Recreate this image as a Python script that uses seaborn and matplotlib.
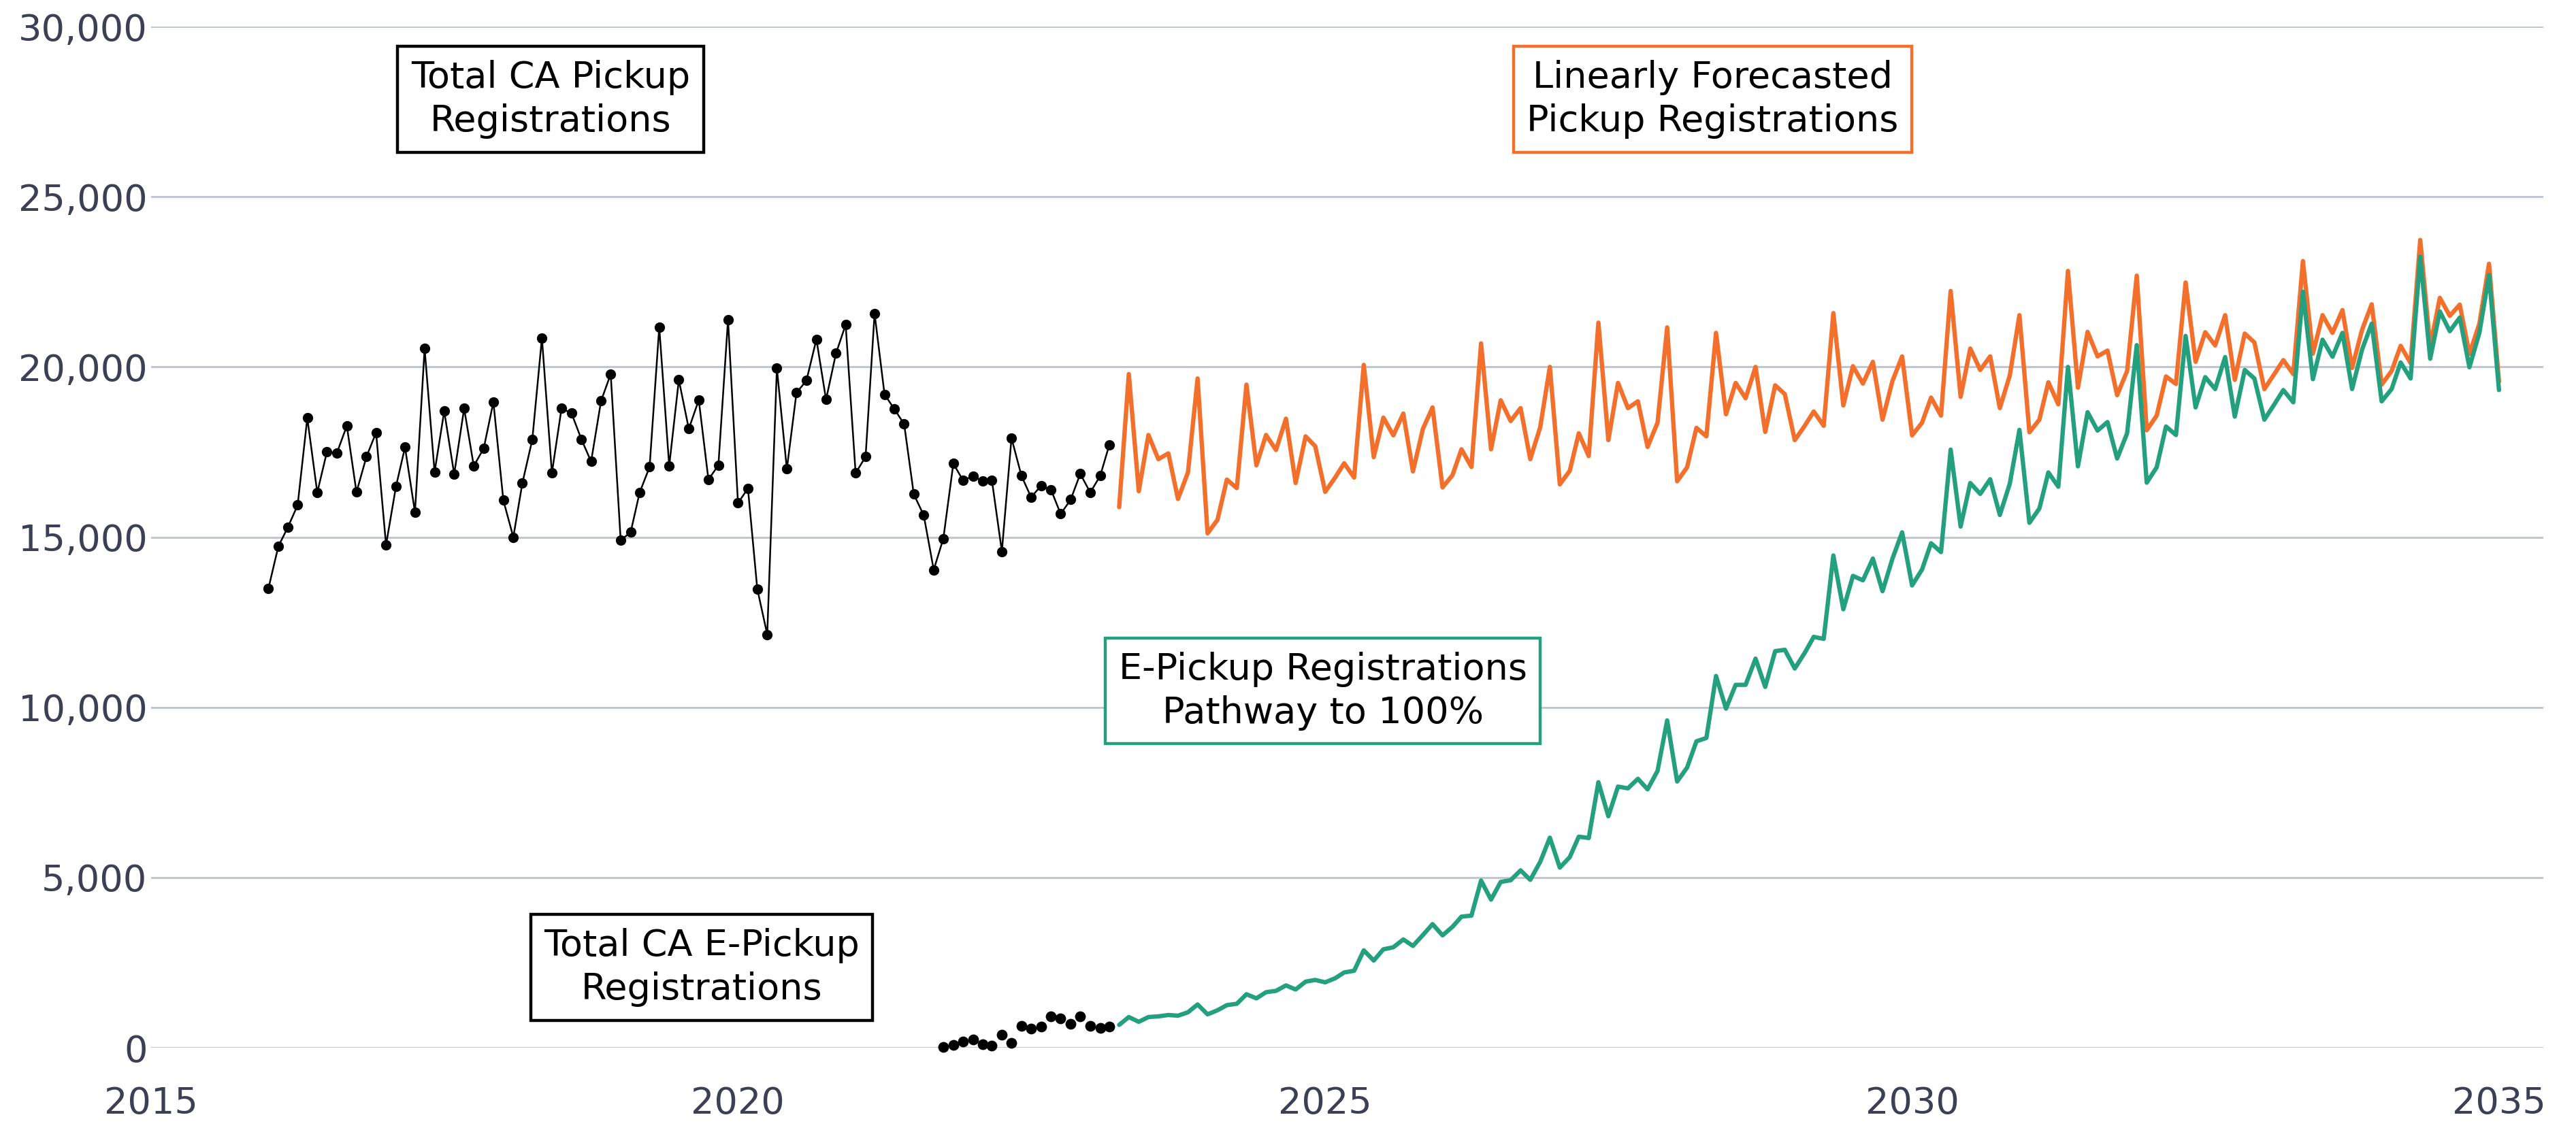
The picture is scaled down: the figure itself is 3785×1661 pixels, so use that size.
import numpy as np
import pandas as pd
import seaborn as sns
from matplotlib import pyplot as plt
import matplotlib.dates as mdates
from matplotlib.ticker import FuncFormatter

# monthly registrations
pickup_start = "2016-01-01"
pickup = [
    13490, 14730, 15280, 15940, 18500, 16310, 17500, 17470, 18270, 16320, 17360, 18070,
    14770, 16490, 17640, 15730, 20540, 16910, 18700, 16850, 18780, 17090, 17610, 18970,
    16080, 15000, 16580, 17860, 20850, 16880, 18780, 18640, 17870, 17220, 19000, 19790,
    14910, 15140, 16310, 17060, 21170, 17090, 19620, 18180, 19030, 16690, 17110, 21390,
    16000, 16430, 13480, 12140, 19960, 17000, 19240, 19600, 20810, 19040, 20400, 21240,
    16880, 17360, 21570, 19190, 18770, 18320, 16260, 15640, 14040, 14960, 17160, 16670,
    16790, 16640, 16670, 14580, 17910, 16800, 16170, 16510, 16390, 15680, 16100, 16860,
    16310, 16800, 17700,
]

epickup_start = "2021-10-01"
epickup = [20, 80, 180, 230, 90, 60, 370, 130, 630, 550, 610, 910, 860, 690, 910, 630, 580, 610]

forecast_start = "2023-04-01"
forecast = [
    15880, 19790, 16350, 18000, 17290, 17460, 16120, 16900, 19660,
    15110, 15510, 16690, 16440, 19480, 17110, 18000, 17560, 18480, 16590, 17960, 17670,
    16330, 16750, 17170, 16750, 20060, 17350, 18510, 17990, 18630, 16930, 18180, 18810,
    16460, 16820, 17580, 17060, 20690, 17580, 19020, 18410, 18790, 17290, 18230, 20000,
    16550, 16950, 18050, 17380, 21300, 17850, 19530, 18790, 18990, 17650, 18360, 21160,
    16640, 17050, 18210, 17960, 21000, 18610, 19530, 19080, 20000, 18090, 19460, 19200,
    17850, 18270, 18690, 18270, 21580, 18870, 20020, 19510, 20150, 18450, 19590, 20310,
    17990, 18360, 19100, 18570, 22230, 19120, 20540, 19910, 20310, 18790, 19750, 21520,
    18080, 18450, 19550, 18900, 22820, 19390, 21030, 20310, 20480, 19170, 19880, 22680,
    18140, 18570, 19720, 19500, 22480, 20150, 21020, 20630, 21520, 19620, 20980, 20720,
    19350, 19790, 20200, 19790, 23110, 20390, 21520, 21000, 21670, 19970, 21090, 21840,
    19480, 19880, 20620, 20110, 23730, 20600, 22030, 21500, 21830, 20380, 21270, 23030,
    19570,
]

pathway = [
    670, 900, 760, 900, 920, 960, 940, 1040, 1270,
    980, 1100, 1250, 1290, 1570, 1450, 1630, 1670, 1830, 1710, 1940, 1990,
    1920, 2040, 2210, 2260, 2860, 2560, 2890, 2950, 3180, 2990, 3310, 3630,
    3300, 3550, 3850, 3880, 4910, 4350, 4870, 4920, 5210, 4930, 5460, 6170,
    5290, 5600, 6200, 6160, 7800, 6800, 7670, 7620, 7900, 7590, 8130, 9615,
    7820, 8230, 9000, 9100, 10920, 9960, 10660, 10660, 11430, 10600, 11650, 11690,
    11140, 11600, 12070, 12010, 14460, 12880, 13860, 13730, 14370, 13410, 14370, 15140,
    13580, 14050, 14820, 14560, 17570, 15310, 16590, 16270, 16700, 15650, 16570, 18150,
    15420, 15840, 16900, 16480, 20000, 17080, 18670, 18130, 18380, 17310, 18050, 20640,
    16600, 17050, 18250, 18000, 20910, 18810, 19700, 19350, 20290, 18540, 19910, 19660,
    18450, 18900, 19320, 18960, 22210, 19640, 20800, 20300, 21000, 19350, 20510, 21270,
    18990, 19350, 20130, 19660, 23240, 20240, 21630, 21050, 21450, 19990, 21000, 22700,
    19320,
]

ORANGE = "#F26F2C"
GREEN = "#25A07F"
TICK_COLOR = "#3d3f55"


def monthly(start, values):
    return pd.DataFrame({
        "date": pd.date_range(start, periods=len(values), freq="MS"),
        "value": values,
    })


def main():
    sns.set_style("white")
    plt.rcParams["font.family"] = ["DejaVu Sans"]

    fig = plt.figure(figsize=(37.85, 16.61), dpi=100)
    ax = fig.add_axes([222 / 3785, 1 - 1540 / 1661, (3737 - 222) / 3785, (1540 - 39) / 1661])

    pk = monthly(pickup_start, pickup)
    ep = monthly(epickup_start, epickup)
    fc = monthly(forecast_start, forecast)
    pw = monthly(forecast_start, pathway)

    sns.lineplot(data=fc, x="date", y="value", ax=ax, color=ORANGE, linewidth=4.6, clip_on=False)
    sns.lineplot(data=pw, x="date", y="value", ax=ax, color=GREEN, linewidth=4.6, clip_on=False)
    sns.lineplot(data=pk, x="date", y="value", ax=ax, color="black", linewidth=1.8,
                 marker="o", markersize=11, markeredgewidth=0, clip_on=False)
    sns.scatterplot(data=ep, x="date", y="value", ax=ax, color="black", s=130,
                    linewidth=0, clip_on=False, zorder=5)

    ax.set_xlim(pd.Timestamp("2015-01-01"), pd.Timestamp("2035-05-19"))
    ax.set_ylim(0, 30000)
    ax.set_yticks(np.arange(0, 30001, 5000))
    ax.yaxis.set_major_formatter(FuncFormatter(lambda v, p: f"{v:,.0f}"))
    ax.set_xticks([pd.Timestamp(f"{y}-01-01") for y in range(2015, 2036, 5)])
    ax.xaxis.set_major_formatter(mdates.DateFormatter("%Y"))

    ax.tick_params(axis="both", length=0, labelsize=39, colors=TICK_COLOR)
    ax.tick_params(axis="y", pad=4)
    ax.tick_params(axis="x", pad=40)
    ax.set_xlabel("")
    ax.set_ylabel("")
    ax.yaxis.grid(True, color="#c0c7d2", linewidth=2.2)
    ax.xaxis.grid(False)
    ax.set_axisbelow(True)
    sns.despine(ax=ax, left=True, bottom=True)

    boxes = [
        ("Total CA Pickup\nRegistrations", "2018-05-28", 27860, "black"),
        ("Linearly Forecasted\nPickup Registrations", "2028-04-20", 27860, ORANGE),
        ("E-Pickup Registrations\nPathway to 100%", "2024-12-25", 10480, GREEN),
        ("Total CA E-Pickup\nRegistrations", "2019-09-10", 2360, "black"),
    ]
    for text, x, y, edge in boxes:
        ax.text(pd.Timestamp(x), y, text, ha="center", va="center", fontsize=39,
                color="black", linespacing=1.3, zorder=6,
                bbox=dict(boxstyle="square,pad=0.36", facecolor="white",
                          edgecolor=edge, linewidth=3.2))

    fig.savefig("out.png", dpi=100)


if __name__ == "__main__":
    main()
